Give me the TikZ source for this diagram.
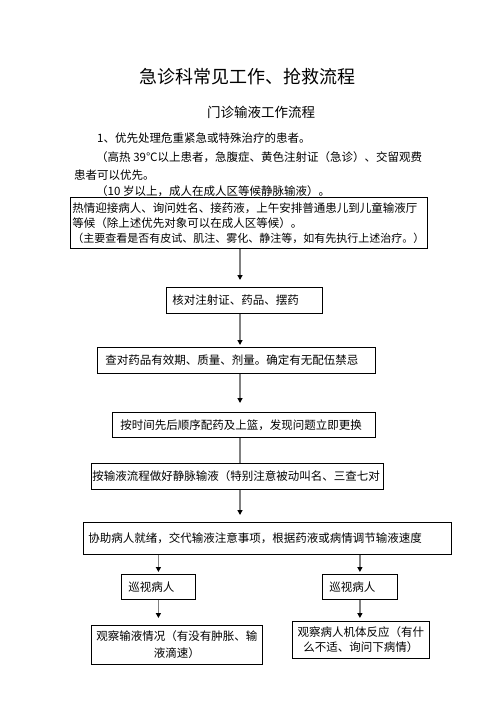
\documentclass[tikz,border=0pt]{standalone}
\usepackage{fontspec}
\usetikzlibrary{arrows.meta}
\newfontfamily\cjk{Noto Sans CJK SC}
\tikzset{
box/.style={draw, line width=0.8pt, anchor=north west, inner ysep=2pt, align=left, font=\cjk\fontsize{11.5}{15}\selectfont},
txt/.style={anchor=west, inner sep=0pt, font=\cjk\fontsize{11.5}{15}\selectfont},
flow/.style={draw=gray, line width=1.6pt, -{Triangle[color=black, length=5pt, width=5pt]}}
}
\begin{document}
\begin{tikzpicture}[x=1pt, y=-1pt]
\useasboundingbox (0, 0) rectangle (496, 702);
\node [font=\cjk\fontsize{18}{18}\selectfont] (title) at (247, 77) {急诊科常见工作、抢救流程};
\node [font=\cjk\fontsize{13.5}{14}\selectfont] (subtitle) at (261, 112) {门诊输液工作流程};
\node [txt] (p1) at (97, 138) {1、优先处理危重紧急或特殊治疗的患者。};
\node [txt] (p2) at (96, 157) {（高热 39℃以上患者，急腹症、黄色注射证（急诊）、交留观费};
\node [txt] (p3) at (74, 175) {患者可以优先。};
\node [txt] (p4) at (96, 191.5) {（10 岁以上，成人在成人区等候静脉输液）。};
\node [box, text width=353pt, inner xsep=2pt, minimum height=51pt] (b1) at (70, 197) {热情迎接病人、询问姓名、接药液，上午安排普通患儿到儿童输液厅\\等候（除上述优先对象可以在成人区等候）。\\{\fontsize{11}{15}\selectfont（主要查看是否有皮试、肌注、雾化、静注等，如有先执行上述治疗。）}};
\node [box, text width=144pt, inner xsep=6pt, minimum height=26pt] (b2) at (166, 287) {核对注射证、药品、摆药};
\node [box, text width=262pt, inner xsep=8pt, minimum height=26pt] (b3) at (97, 347) {查对药品有效期、质量、剂量。确定有无配伍禁忌};
\node [box, text width=247pt, inner xsep=8pt, minimum height=25pt] (b4) at (112, 412) {按时间先后顺序配药及上篮，发现问题立即更换};
\node [box, text width=290pt, inner xsep=1pt, minimum height=26pt] (b5) at (91, 463) {按输液流程做好静脉输液（特别注意被动叫名、三查七对};
\node [box, text width=358pt, inner xsep=5pt, minimum height=32pt] (b6) at (83, 522) {协助病人就绪，交代输液注意事项，根据药液或病情调节输液速度};
\node [box, text width=60pt, inner xsep=7pt, minimum height=25pt] (b7a) at (121, 574) {巡视病人};
\node [box, text width=61pt, inner xsep=7pt, minimum height=25pt] (b7b) at (322, 574) {巡视病人};
\node [box, text width=161pt, inner xsep=5pt, minimum height=39pt, align=center] (b8a) at (91, 625) {观察输液情况（有没有肿胀、输\\[2pt]液滴速）};
\node [box, text width=128pt, inner xsep=4.5pt, minimum height=37pt, align=center] (b8b) at (292, 621) {观察病人机体反应（有什\\么不适、询问下病情）};
\coordinate (axis) at (240, 0);
\draw [flow, shorten >=7pt] (b1.south -| axis) -- (b2.north -| axis);
\draw [flow, shorten >=2pt] (b2.south -| axis) -- (b3.north -| axis);
\draw [flow, shorten >=9pt] (b3.south -| axis) -- (b4.north -| axis);
\draw [flow, -] (b4.south -| axis) -- (b5.north -| axis);
\draw [flow, shorten >=7pt] (b5.south -| axis) -- (b6.north -| axis);
\draw [flow, shorten >=2pt] (b6.south -| b7a) -- (b7a.north);
\draw [flow, shorten >=2pt] (b6.south -| b7b) -- (b7b.north);
\draw [flow, shorten >=7pt] (b7a.south) -- (b7a.south |- b8a.north);
\draw [flow, shorten >=3pt] (b7b.south) -- (b7b.south |- b8b.north);
\end{tikzpicture}
\end{document}
